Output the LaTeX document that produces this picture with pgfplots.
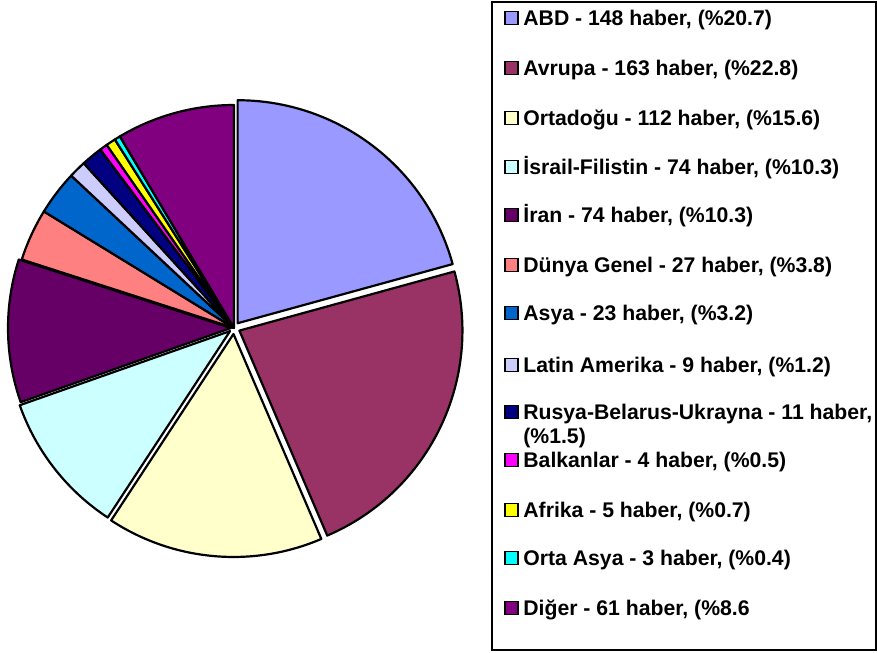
\documentclass[border=0pt]{standalone}
\usepackage{fontspec}
\setmainfont{Liberation Sans}
\usepackage{pgfplots}
\pgfplotsset{compat=1.18}
\usepackage{pgfplotstable}
\usetikzlibrary{calc}

% Excel palette
\definecolor{cABD}{HTML}{9999FF}
\definecolor{cAVR}{HTML}{993366}
\definecolor{cORT}{HTML}{FFFFCC}
\definecolor{cISR}{HTML}{CCFFFF}
\definecolor{cIRN}{HTML}{660066}
\definecolor{cDUN}{HTML}{FF8080}
\definecolor{cASY}{HTML}{0066CC}
\definecolor{cLAT}{HTML}{CCCCFF}
\definecolor{cRUS}{HTML}{000080}
\definecolor{cBAL}{HTML}{FF00FF}
\definecolor{cAFR}{HTML}{FFFF00}
\definecolor{cOAS}{HTML}{00FFFF}
\definecolor{cDIG}{HTML}{800080}

% value = haber count, ex = explode offset (px)
\pgfplotstableread[col sep=comma]{
key,value,col,ex
ABD,148,cABD,6
Avrupa,163,cAVR,6
Ortadogu,112,cORT,6
Israil,74,cISR,5
Iran,74,cIRN,3
Dunya,27,cDUN,0
Asya,23,cASY,0
Latin,9,cLAT,0
Rusya,11,cRUS,0
Balkan,4,cBAL,0
Afrika,5,cAFR,0
OrtaAsya,3,cOAS,0
Diger,61,cDIG,0
}\piedata

\tikzset{legtext/.style={anchor=base west, inner sep=0pt,
  font=\fontsize{10.6}{12.5}\selectfont\bfseries}}
\newcommand{\legitem}[3]{% y (image px), colour, text
  \filldraw[fill=#2, draw=black, line width=0.8pt]
    (axis cs:505,{652-#1-6.5}) rectangle (axis cs:518,{652-#1+6.5});
  \node[legtext] at (axis cs:523,{652-#1-7.5}) {#3};
}

\begin{document}
\begin{tikzpicture}
\begin{axis}[
  hide axis, scale only axis,
  width=438.5pt, height=326pt,
  xmin=0, xmax=877, ymin=0, ymax=652,
  clip=false,
]
\path (axis cs:0,0) rectangle (axis cs:877,652);
\pgfplotsextra{
  \gdef\total{0}
  \foreach \i in {0,...,12}{
    \pgfplotstablegetelem{\i}{value}\of\piedata
    \pgfmathsetmacro\t{\total+\pgfplotsretval}
    \xdef\total{\t}
  }
  \gdef\cumangle{90}
  \foreach \i in {0,...,12}{
    \pgfplotstablegetelem{\i}{value}\of\piedata \let\v\pgfplotsretval
    \pgfplotstablegetelem{\i}{col}\of\piedata \let\c\pgfplotsretval
    \pgfplotstablegetelem{\i}{ex}\of\piedata \let\e\pgfplotsretval
    \pgfmathsetmacro\a{\cumangle}
    \pgfmathsetmacro\b{\cumangle-360*(\v/\total)}
    \pgfmathsetmacro\m{(\a+\b)/2}
    \filldraw[fill=\c, draw=black, line width=1.1pt, line join=round]
      ($(axis cs:234,324)+(\m:\e*0.5pt)$) -- ++(\a:111.5pt)
      arc[start angle=\a, end angle=\b, radius=111.5pt] -- cycle;
    \xdef\cumangle{\b}
  }
}
% legend box
\draw[line width=0.8pt] (axis cs:492,2) rectangle (axis cs:876,650);
\legitem{18}{cABD}{ABD - 148 haber, (\%20.7)}
\legitem{68}{cAVR}{Avrupa - 163 haber, (\%22.8)}
\legitem{118}{cORT}{Ortadoğu - 112 haber, (\%15.6)}
\legitem{167}{cISR}{İsrail-Filistin - 74 haber, (\%10.3)}
\legitem{215}{cIRN}{İran - 74 haber, (\%10.3)}
\legitem{265}{cDUN}{Dünya Genel - 27 haber, (\%3.8)}
\legitem{313}{cASY}{Asya - 23 haber, (\%3.2)}
\legitem{365}{cLAT}{Latin Amerika - 9 haber, (\%1.2)}
\legitem{412}{cRUS}{Rusya-Belarus-Ukrayna - 11 haber,}
\node[legtext] at (axis cs:523,{652-436-7.5}) {(\%1.5)};
\legitem{460}{cBAL}{Balkanlar - 4 haber, (\%0.5)}
\legitem{510}{cAFR}{Afrika - 5 haber, (\%0.7)}
\legitem{558}{cOAS}{Orta Asya - 3 haber, (\%0.4)}
\legitem{608}{cDIG}{Diğer - 61 haber, (\%8.6}
\end{axis}
\end{tikzpicture}
\end{document}
